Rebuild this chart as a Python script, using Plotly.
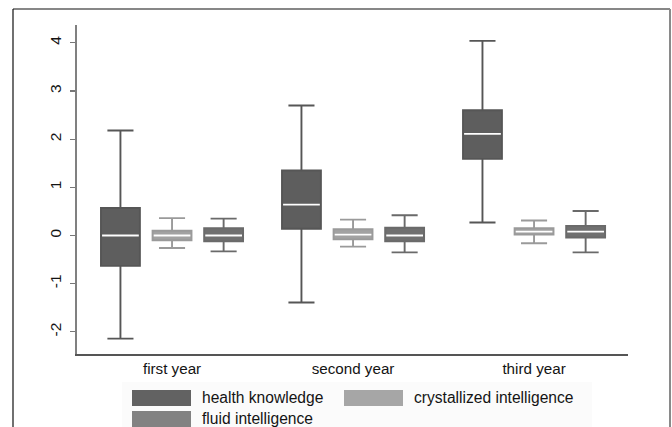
import plotly.graph_objects as go

# ---- data ----
categories = ["first year", "second year", "third year"]
series_names = ["health knowledge", "crystallized intelligence", "fluid intelligence"]

health_lower = [-2.14, -1.39, 0.27]
health_q1 = [-0.63, 0.14, 1.59]
health_median = [0.00, 0.64, 2.11]
health_q3 = [0.57, 1.35, 2.60]
health_upper = [2.18, 2.70, 4.04]

cryst_lower = [-0.26, -0.23, -0.16]
cryst_q1 = [-0.10, -0.08, 0.02]
cryst_median = [0.00, 0.02, 0.08]
cryst_q3 = [0.10, 0.13, 0.15]
cryst_upper = [0.36, 0.33, 0.31]

fluid_lower = [-0.33, -0.35, -0.35]
fluid_q1 = [-0.12, -0.12, -0.04]
fluid_median = [0.00, 0.00, 0.08]
fluid_q3 = [0.15, 0.16, 0.20]
fluid_upper = [0.35, 0.42, 0.51]

y_ticks = [-2, -1, 0, 1, 2, 3, 4]
y_tick_labels = ["-2", "-1", "0", "1", "2", "3", "4"]

# ---- styling ----
W, H = 672, 427
L, R, T, B = 77, 628, 25, 354   # plot area in page pixels
FONT = "Liberation Sans, Arial, sans-serif"

stats = [
    (health_lower, health_q1, health_median, health_q3, health_upper),
    (cryst_lower, cryst_q1, cryst_median, cryst_q3, cryst_upper),
    (fluid_lower, fluid_q1, fluid_median, fluid_q3, fluid_upper),
]
fills = ["#5e5e5e", "#a2a2a2", "#707070"]
lines = ["#565656", "#9a9a9a", "#6a6a6a"]
swatches = ["#626262", "#a6a6a6", "#828282"]
offsets = [-0.285, 0.0, 0.285]
box_w = 0.215

fig = go.Figure()
group_pos = list(range(len(categories)))
for k, (lo, q1, med, q3, hi) in enumerate(stats):
    xs = [g + offsets[k] for g in group_pos]
    fig.add_trace(go.Box(
        x=xs, lowerfence=lo, q1=q1, median=med, q3=q3, upperfence=hi,
        width=box_w, whiskerwidth=0.67,
        fillcolor=fills[k], line=dict(color=lines[k], width=1.9),
        name=series_names[k], showlegend=False, hoverinfo="skip",
        boxpoints=False,
    ))
    # white median lines
    mx, my = [], []
    for x, m in zip(xs, med):
        mx += [x - box_w / 2 + 0.006, x + box_w / 2 - 0.006, None]
        my += [m, m, None]
    fig.add_trace(go.Scatter(x=mx, y=my, mode="lines",
                             line=dict(color="white", width=1.8),
                             showlegend=False, hoverinfo="skip"))

def px_x(p):
    return (p - L) / (R - L)

def px_y(p):
    return (B - p) / (B - T)

shapes = []
# outer frame
shapes.append(dict(type="line", xref="paper", yref="paper",
                   x0=px_x(13), x1=px_x(670), y0=px_y(9), y1=px_y(9),
                   line=dict(color="#111", width=1.2)))
shapes.append(dict(type="line", xref="paper", yref="paper",
                   x0=px_x(13), x1=px_x(13), y0=px_y(9), y1=px_y(440),
                   line=dict(color="#111", width=1.2)))
shapes.append(dict(type="line", xref="paper", yref="paper",
                   x0=px_x(670), x1=px_x(670), y0=px_y(9), y1=px_y(440),
                   line=dict(color="#8a8a8a", width=2)))
# faint legend background
shapes.append(dict(type="rect", xref="paper", yref="paper",
                   x0=px_x(122), x1=px_x(592), y0=px_y(382), y1=px_y(440),
                   line=dict(width=0), fillcolor="#fbfbfb", layer="below"))

# manual legend
legend_items = [
    (132, 390, 200),   # health
    (344, 390, 412),   # crystallized
    (132, 411, 200),   # fluid
]
annotations = []
for k, (sx, sy, tx) in enumerate(legend_items):
    shapes.append(dict(type="rect", xref="paper", yref="paper",
                       x0=px_x(sx), x1=px_x(sx + 59), y0=px_y(sy), y1=px_y(sy + 16),
                       line=dict(width=0), fillcolor=swatches[k]))
    annotations.append(dict(xref="paper", yref="paper", x=px_x(tx), y=px_y(sy + 7),
                            text=series_names[k], showarrow=False,
                            xanchor="left", yanchor="middle",
                            font=dict(family=FONT, size=15.6, color="#141414")))

fig.update_layout(
    width=W, height=H,
    margin=dict(l=L, r=W - R, t=T, b=H - B),
    paper_bgcolor="white", plot_bgcolor="white",
    boxmode="overlay",
    showlegend=False,
    hovermode=False,
    shapes=shapes, annotations=annotations,
    font=dict(family=FONT, size=15, color="#141414"),
)
fig.update_xaxes(
    range=[-0.525, 2.519], tickmode="array", tickvals=group_pos, ticktext=categories,
    showgrid=False, zeroline=False, showline=True, linecolor="#555", linewidth=1.8,
    ticks="", ticklabelstandoff=0, tickfont=dict(size=15.2),
)
fig.update_yaxes(
    range=[-2.46, 4.37], tickmode="array", tickvals=y_ticks, ticktext=y_tick_labels,
    showgrid=False, zeroline=False, showline=True, linecolor="#808080", linewidth=1.8,
    ticks="outside", ticklen=5, tickcolor="#777", tickwidth=1.2, tickangle=-90,
    ticklabelstandoff=3, tickfont=dict(size=15.5),
)

fig.write_html(
    "out.html",
    config={"displayModeBar": False, "staticPlot": True},
    post_script="document.body.style.margin='0';document.body.style.overflow='hidden';",
)
